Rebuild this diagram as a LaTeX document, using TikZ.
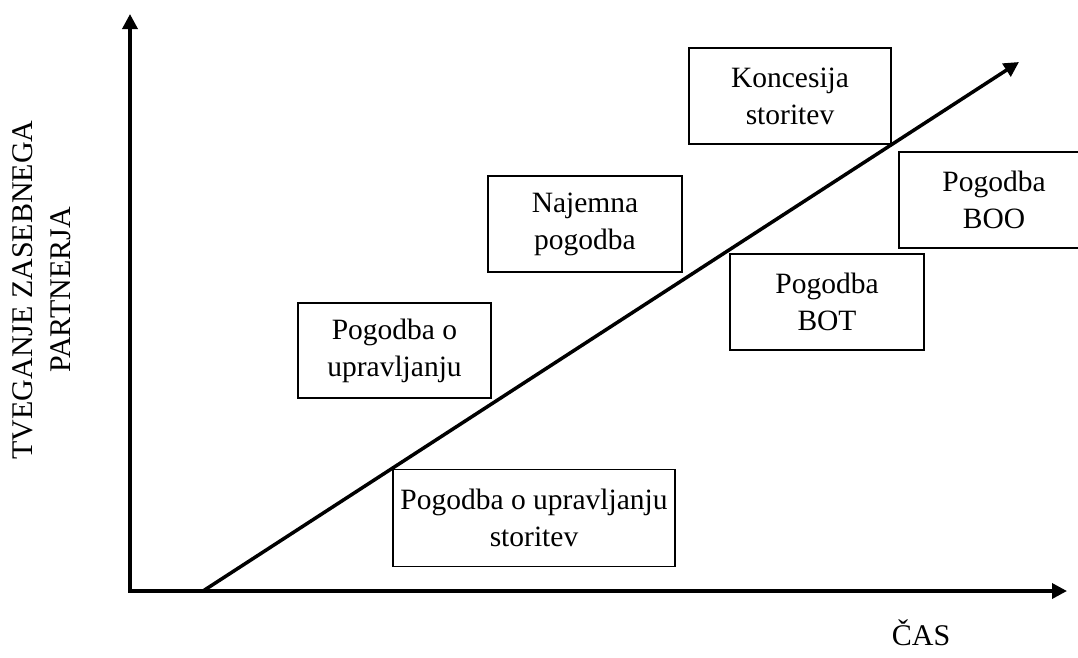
\documentclass[tikz,border=0pt]{standalone}
\usepackage{fontspec}
\setmainfont{Liberation Serif}
\usetikzlibrary{arrows.meta}
\tikzset{
  box/.style={draw, line width=1.4pt, align=center, inner sep=0pt,
    font=\fontsize{29.5}{37}\selectfont},
  lbl/.style={align=center, inner sep=0pt, font=\fontsize{30}{38}\selectfont},
  axis/.style={line width=3.5pt, {Triangle[length=15pt,width=15pt]}-{Triangle[length=15pt,width=15pt]}},
  diag/.style={line width=3.5pt, -{Triangle[length=15pt,width=15pt]}}
}
\begin{document}
\begin{tikzpicture}[x=1pt,y=-1pt]
\useasboundingbox (0,0) rectangle (1078,657);
\coordinate (ytop) at (130,14);
\coordinate (origin) at (130,591);
\coordinate (xend) at (1067,591);
\coordinate (dstart) at (203,591);
\coordinate (dend) at (1019,62);
\draw[axis] (ytop) -- (origin) -- (xend);
\draw[diag] (dstart) -- (dend);
\node[box, minimum width=202pt, minimum height=96pt] (kon) at (790,96) {Koncesija\\storitev};
\node[box, minimum width=194pt, minimum height=96pt] (naj) at (585,224) {Najemna\\pogodba};
\node[box, minimum width=190pt, minimum height=96pt] (boo) at (994,200) {Pogodba\\BOO};
\node[box, minimum width=194pt, minimum height=96pt] (bot) at (827,302) {Pogodba\\BOT};
\node[box, minimum width=193pt, minimum height=95pt] (upr) at (394.5,350.5) {Pogodba o\\upravljanju};
\node[box, minimum width=282pt, minimum height=97pt] (upst) at (534,518) {Pogodba o upravljanju\\storitev};
\node[lbl, rotate=90] (ylab) at (42,290) {TVEGANJE ZASEBNEGA\\PARTNERJA};
\node[lbl] (xlab) at (921,633) {ČAS};
\end{tikzpicture}
\end{document}
